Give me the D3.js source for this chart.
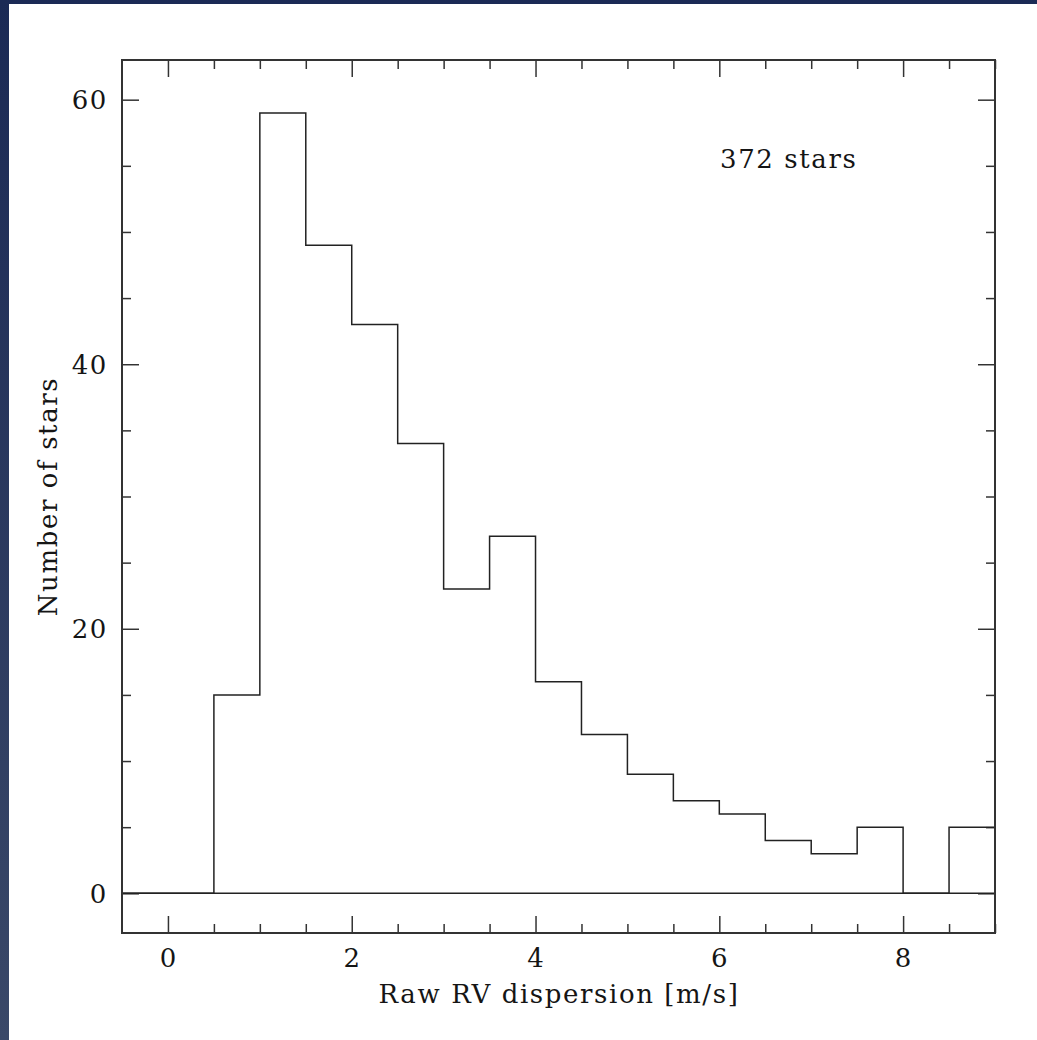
<!DOCTYPE html>
<html>
<head>
<meta charset="utf-8">
<script src="https://cdn.jsdelivr.net/npm/d3@7"></script>
<style>
  html, body { margin: 0; padding: 0; background: #fff; }
  svg { display: block; }
  text { font-family: "DejaVu Serif", serif; fill: #151515; letter-spacing: 1.6px; }
</style>
</head>
<body>
<svg id="chart" width="1037" height="1040"></svg>
<script>
// Histogram of raw RV dispersion, 0.5 m/s bins
const binStarts = [0.5, 1.0, 1.5, 2.0, 2.5, 3.0, 3.5, 4.0, 4.5, 5.0, 5.5, 6.0, 6.5, 7.0, 7.5, 8.0, 8.5];
const binWidth = 0.5;
const counts = [15, 59, 49, 43, 34, 23, 27, 16, 12, 9, 7, 6, 4, 3, 5, 0, 5];

const xMajorTicks = [0, 2, 4, 6, 8];
const yMajorTicks = [0, 20, 40, 60];
const xTitle = "Raw RV dispersion [m/s]";
const yTitle = "Number of stars";
const annotation = "372 stars";

const W = 1037, H = 1040;
const frame = { left: 122, right: 995, top: 60, bottom: 933 };
const fontSize = 26;

const svg = d3.select("#chart");

// Page backdrop: dark blue band along the left and top edges
const defs = svg.append("defs");
const grad = defs.append("linearGradient")
  .attr("id", "edge").attr("x1", 0).attr("y1", 0).attr("x2", 0).attr("y2", 1);
grad.append("stop").attr("offset", "0%").attr("stop-color", "#1b2a55");
grad.append("stop").attr("offset", "100%").attr("stop-color", "#3a4868");
svg.append("rect").attr("x", 0).attr("y", 0).attr("width", W).attr("height", H).attr("fill", "url(#edge)");
svg.append("rect").attr("x", 9).attr("y", 4).attr("width", W - 9).attr("height", H - 4).attr("fill", "#fff");

const x = d3.scaleLinear().domain([-0.5, 9]).range([frame.left, frame.right]);
const y = d3.scaleLinear().domain([-3, 63]).range([frame.bottom, frame.top]);

const axisColor = "#333";
const majorLen = 17, minorLen = 9;

// Ticks on all four sides (major + minor), pointing into the frame
function drawAxis(axisFn, scale, transform, majors, minors) {
  svg.append("g").attr("transform", transform)
    .call(axisFn(scale).tickValues(minors).tickSize(minorLen).tickFormat(""))
    .call(g => g.select(".domain").remove())
    .call(g => g.selectAll("line").attr("stroke", axisColor).attr("stroke-width", 1.5));
  svg.append("g").attr("transform", transform)
    .call(axisFn(scale).tickValues(majors).tickSize(majorLen).tickFormat(""))
    .call(g => g.select(".domain").remove())
    .call(g => g.selectAll("line").attr("stroke", axisColor).attr("stroke-width", 1.5));
}

const xMinor = d3.range(0, 9.01, 0.5).filter(v => !xMajorTicks.includes(v));
const yMinor = d3.range(0, 63, 5).filter(v => !yMajorTicks.includes(v));

drawAxis(d3.axisTop, x, `translate(0,${frame.bottom})`, xMajorTicks, xMinor);
drawAxis(d3.axisBottom, x, `translate(0,${frame.top})`, xMajorTicks, xMinor);
drawAxis(d3.axisRight, y, `translate(${frame.left},0)`, yMajorTicks, yMinor);
drawAxis(d3.axisLeft, y, `translate(${frame.right},0)`, yMajorTicks, yMinor);

// Tick labels (nudged to offset the trailing letter-spacing)
svg.append("g").selectAll("text").data(xMajorTicks).join("text")
  .attr("x", d => x(d) + 0.8).attr("y", 967)
  .attr("text-anchor", "middle").attr("font-size", fontSize)
  .text(d => d);
svg.append("g").selectAll("text").data(yMajorTicks).join("text")
  .attr("x", 108).attr("y", d => y(d)).attr("dy", "0.36em")
  .attr("text-anchor", "end").attr("font-size", fontSize)
  .text(d => d);

// Axis titles
svg.append("text")
  .attr("x", 559).attr("y", 1003)
  .attr("text-anchor", "middle").attr("font-size", fontSize)
  .text(xTitle);
svg.append("text")
  .attr("transform", `translate(57,${(frame.top + frame.bottom) / 2}) rotate(-90)`)
  .attr("text-anchor", "middle").attr("font-size", fontSize)
  .text(yTitle);

// Annotation
svg.append("text")
  .attr("x", 720).attr("y", 168)
  .attr("font-size", fontSize)
  .text(annotation);

// Histogram outline as a step path
const clipId = "plotclip";
defs.append("clipPath").attr("id", clipId).append("rect")
  .attr("x", frame.left).attr("y", frame.top)
  .attr("width", frame.right - frame.left).attr("height", frame.bottom - frame.top);

const pts = [[-0.5, 0]];
binStarts.forEach((s, i) => {
  pts.push([s, i === 0 ? 0 : counts[i - 1]]);
  pts.push([s, counts[i]]);
});
pts.push([binStarts[binStarts.length - 1] + binWidth, counts[counts.length - 1]]);

const line = d3.line().x(d => x(d[0])).y(d => y(d[1]));
svg.append("path").attr("clip-path", `url(#${clipId})`)
  .attr("d", line(pts)).attr("fill", "none")
  .attr("stroke", "#222").attr("stroke-width", 1.5);

// Zero baseline across the full width
svg.append("line")
  .attr("x1", x(-0.5)).attr("x2", x(9)).attr("y1", y(0)).attr("y2", y(0))
  .attr("stroke", "#222").attr("stroke-width", 1.5);

// Frame
svg.append("rect")
  .attr("x", frame.left).attr("y", frame.top)
  .attr("width", frame.right - frame.left).attr("height", frame.bottom - frame.top)
  .attr("fill", "none").attr("stroke", axisColor).attr("stroke-width", 2);
</script>
</body>
</html>
